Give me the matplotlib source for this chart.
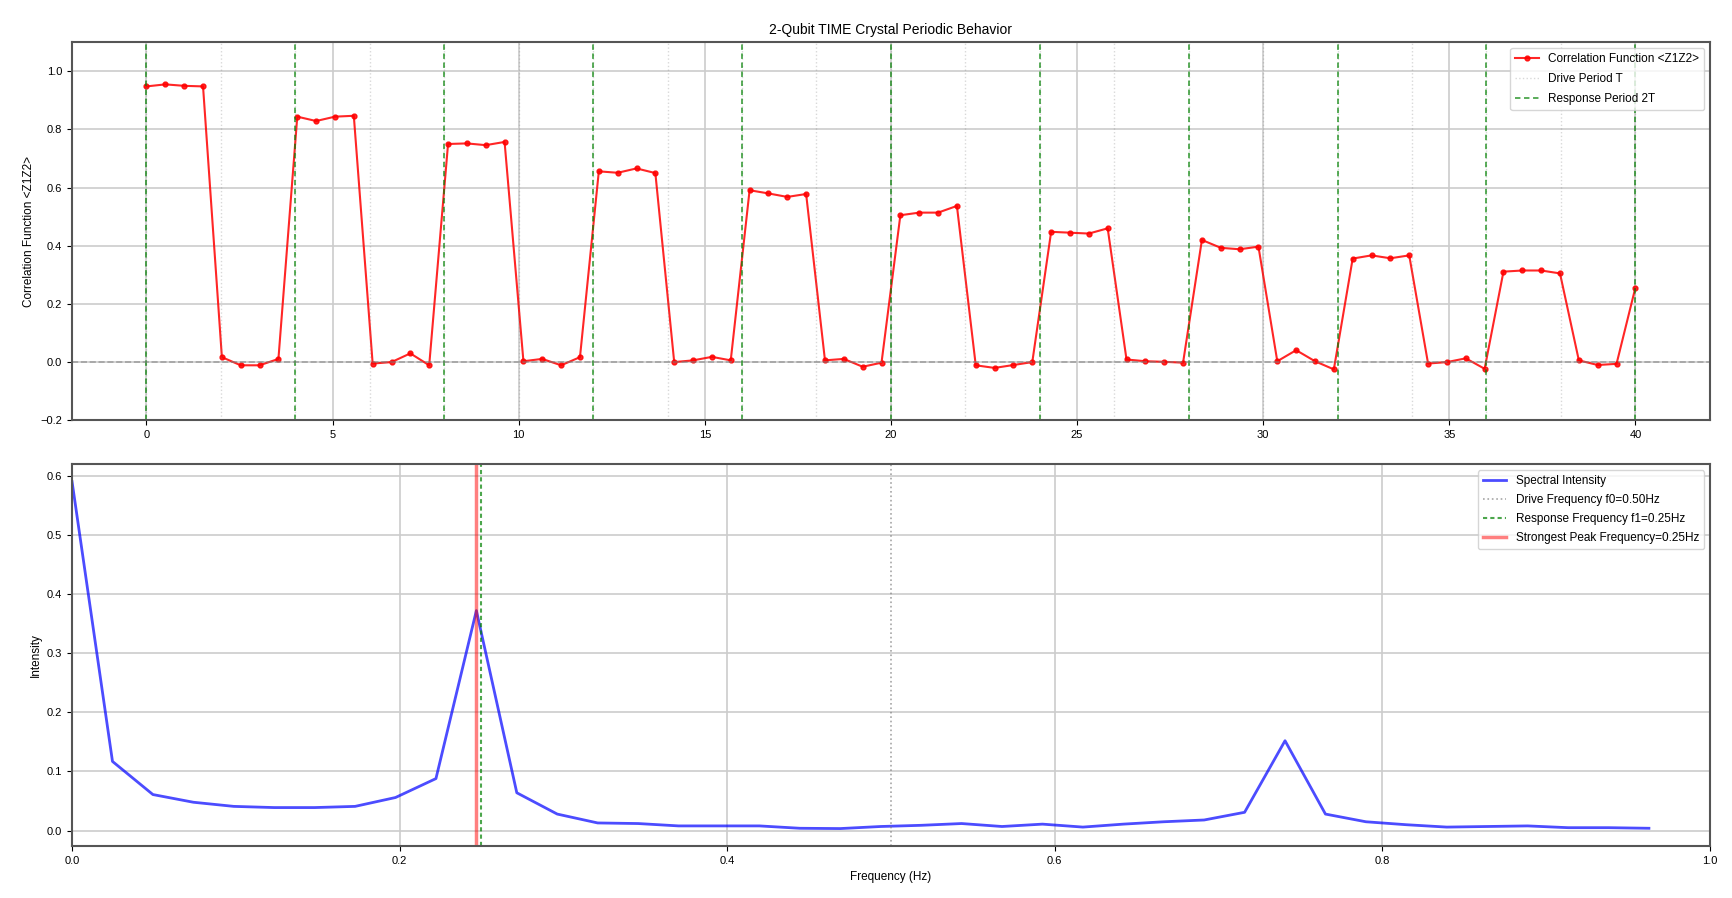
import numpy as np
import matplotlib
matplotlib.use("Agg")
import matplotlib.pyplot as plt

plt.rcParams['font.family'] = ['Liberation Sans', 'DejaVu Sans']

# sampling: 80 points over 0..40 s
n_samples = 80
t_end = 40.0
drive_period = 2.0
response_period = 4.0

# <Z1Z2> correlation, 80 samples
correlation = [
    0.948, 0.955, 0.950, 0.948, 0.017, -0.011, -0.011, 0.011,
    0.844, 0.829, 0.844, 0.847, -0.005, 0.000, 0.030, -0.011,
    0.750, 0.752, 0.746, 0.757, 0.003, 0.011, -0.011, 0.017,
    0.656, 0.651, 0.666, 0.650, 0.000, 0.006, 0.018, 0.006,
    0.591, 0.580, 0.568, 0.578, 0.006, 0.011, -0.016, -0.002,
    0.505, 0.514, 0.514, 0.537, -0.011, -0.020, -0.010, 0.000,
    0.448, 0.445, 0.442, 0.460, 0.009, 0.003, 0.001, -0.002,
    0.420, 0.393, 0.388, 0.397, 0.003, 0.041, 0.003, -0.025,
    0.356, 0.367, 0.357, 0.367, -0.005, 0.000, 0.013, -0.023,
    0.311, 0.315, 0.315, 0.305, 0.006, -0.010, -0.006, 0.256,
]

# spectral intensity for the first 40 FFT bins
intensity = [
    0.590, 0.117, 0.061, 0.048, 0.041, 0.039, 0.039, 0.041, 0.056, 0.088,
    0.372, 0.064, 0.028, 0.013, 0.012, 0.008, 0.008, 0.008, 0.004, 0.0035,
    0.007, 0.009, 0.012, 0.007, 0.011, 0.006, 0.011, 0.015, 0.018, 0.031,
    0.152, 0.028, 0.015, 0.010, 0.006, 0.007, 0.008, 0.005, 0.005, 0.004,
]

drive_freq = 0.5
response_freq = 0.25

times = np.linspace(0, t_end, n_samples)
dt = times[1] - times[0]
freqs = np.arange(len(intensity)) / (n_samples * dt)
peak_freq = freqs[1:][np.argmax(intensity[1:])]

fig = plt.figure(figsize=(17.32, 8.98), dpi=100)
ax1 = fig.add_axes([0.0416, 0.532, 0.9456, 0.421])
ax2 = fig.add_axes([0.0416, 0.058, 0.9456, 0.425])

# top: correlation function
ax1.plot(times, correlation, 'r-o', markersize=3.5, linewidth=1.5, alpha=0.85,
         label='Correlation Function <Z1Z2>')
for i, x in enumerate(np.arange(0, t_end + 0.1, drive_period)):
    ax1.axvline(x, color='gray', linestyle=':', alpha=0.3, linewidth=1,
                label='Drive Period T' if i == 0 else None)
for i, x in enumerate(np.arange(0, t_end + 0.1, response_period)):
    ax1.axvline(x, color='green', linestyle=(0, (3, 2)), alpha=0.7, linewidth=1.3,
                label='Response Period 2T' if i == 0 else None)
ax1.axhline(0, color='gray', linestyle='--', alpha=0.6, linewidth=1.2)
ax1.set_ylim(-0.2, 1.1)
ax1.set_ylabel('Correlation Function <Z1Z2>', fontsize=8.5)
ax1.set_title('2-Qubit TIME Crystal Periodic Behavior', fontsize=10)
ax1.legend(loc='upper right', fontsize=8.5, labelspacing=0.7)
ax1.grid(True, color='#cccccc', linewidth=1.2)

# bottom: spectrum
ax2.plot(freqs, intensity, color='blue', linewidth=2, alpha=0.7,
         label='Spectral Intensity')
ax2.axvline(drive_freq, color='gray', linestyle=':', alpha=0.7, linewidth=1.2,
            label=f'Drive Frequency f0={drive_freq:.2f}Hz')
ax2.axvline(peak_freq, color='red', linestyle='-', alpha=0.5, linewidth=2.5,
            label=f'Strongest Peak Frequency={peak_freq:.2f}Hz')
ax2.axvline(response_freq, color='green', linestyle=(0, (2, 1.5)), alpha=0.7, linewidth=1.5,
            label=f'Response Frequency f1={response_freq:.2f}Hz')
ax2.set_xlim(0, 1.0)
ax2.set_xlabel('Frequency (Hz)', fontsize=8.5)
ax2.set_ylabel('Intensity', fontsize=8.5)
h, l = ax2.get_legend_handles_labels()
order = [0, 1, 3, 2]
ax2.legend([h[i] for i in order], [l[i] for i in order], loc='upper right',
           fontsize=8.5, labelspacing=0.6)
ax2.grid(True, color='#cccccc', linewidth=1.2)

for ax in (ax1, ax2):
    ax.tick_params(labelsize=8)
    for s in ax.spines.values():
        s.set_color('#555555')
        s.set_linewidth(1.5)

fig.savefig('out.png', dpi=100)
